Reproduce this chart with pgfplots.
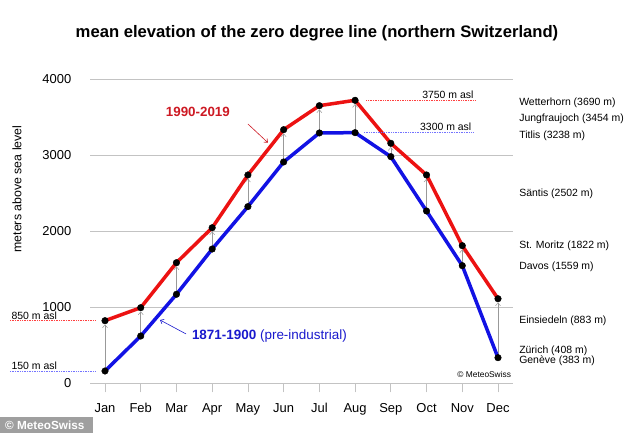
\documentclass[border=0pt]{standalone}
\usepackage{pgfplots}
\pgfplotsset{compat=1.18}
\usepackage{pgfplotstable}
\usepackage{fontspec}
\setmainfont{Liberation Sans}
\usetikzlibrary{arrows.meta}
\definecolor{myred}{RGB}{236,18,18}
\definecolor{myblue}{RGB}{18,18,228}
\definecolor{lblred}{RGB}{205,25,35}
\definecolor{lblblue}{RGB}{25,25,205}
\definecolor{axgray}{RGB}{195,195,195}

\pgfplotstableread{
m pre now
0 162 824
1 622 995
2 1171 1587
3 1767 2047
4 2325 2741
5 2912 3337
6 3294 3653
7 3298 3724
8 2982 3158
9 2267 2741
10 1548 1811
11 337 1113
}\data

\begin{document}
\begin{tikzpicture}
\path[use as bounding box] (0,0) rectangle (634bp,433bp);
\begin{axis}[
 at={(90bp,49.7bp)}, anchor=south west, scale only axis,
 width=423bp, height=304bp,
 xmin=-0.42, xmax=11.42, ymin=0, ymax=4000,
 clip=false,
 axis x line*=bottom, axis y line*=left,
 y axis line style={draw=none},
 x axis line style={draw=axgray, line width=0.8bp, -},
 xtick={0,...,11},
 xticklabels={Jan,Feb,Mar,Apr,May,Jun,Jul,Aug,Sep,Oct,Nov,Dec},
 ytick={0,1000,2000,3000,4000},
 ymajorgrids, grid style={axgray, line width=0.8bp},
 ytick style={draw=none},
 xtick style={draw=axgray, line width=0.8bp},
 tick align=outside, major tick length=9bp,
 ticklabel style={font=\fontsize{13}{15}\selectfont},
 yticklabel style={inner sep=0pt, xshift=-9.5bp, yshift=0.6bp},
 xticklabel style={yshift=-7.5bp},
 /pgf/number format/assume math mode=true,
 /pgf/number format/1000 sep={},
]
\addplot[gray!80, line width=0.5bp, -{Straight Barb[length=3bp,width=5bp]},
  quiver={u=0, v=\thisrow{now}-\thisrow{pre}, every arrow/.append style={shorten >=3.7bp}}]
  table[x=m, y=pre] {\data};
\addplot[myblue, line width=3.5bp, mark=*, mark size=3.3bp,
  mark options={solid, fill=black, draw=black, line width=0.4bp}] table[x=m, y=pre] {\data};
\addplot[myred, line width=3.5bp, mark=*, mark size=3.3bp,
  mark options={solid, fill=black, draw=black, line width=0.4bp}] table[x=m, y=now] {\data};
% reference lines
\addplot[red!75, densely dotted, line width=0.7bp] coordinates {(7.31,3724) (10.36,3724)};
\addplot[blue!55, densely dotted, line width=0.7bp] coordinates {(7.25,3298) (10.30,3298)};
\addplot[red!75, densely dotted, line width=0.7bp] coordinates {(-2.66,824) (-0.28,824)};
\addplot[blue!55, densely dotted, line width=0.7bp] coordinates {(-2.66,162) (-0.28,162)};
\begin{scope}[font=\fontsize{10.5}{12}\selectfont]
\node[anchor=south east, inner sep=1.5bp] at (axis cs:10.36,3724) {3750 m asl};
\node[anchor=south east, inner sep=1.5bp] at (axis cs:10.30,3298) {3300 m asl};
\node[anchor=south west, inner sep=0pt, yshift=0.6bp] at (axis cs:-2.62,824) {850 m asl};
\node[anchor=south west, inner sep=0pt, yshift=0.8bp] at (axis cs:-2.62,162) {150 m asl};
\node[anchor=west, inner sep=0pt] at (axis cs:11.59,3694) {Wetterhorn (3690 m)};
\node[anchor=west, inner sep=0pt] at (axis cs:11.59,3478) {Jungfraujoch (3454 m)};
\node[anchor=west, inner sep=0pt] at (axis cs:11.59,3258) {Titlis (3238 m)};
\node[anchor=west, inner sep=0pt] at (axis cs:11.59,2500) {Säntis (2502 m)};
\node[anchor=west, inner sep=0pt] at (axis cs:11.59,1807) {St. Moritz (1822 m)};
\node[anchor=west, inner sep=0pt] at (axis cs:11.59,1530) {Davos (1559 m)};
\node[anchor=west, inner sep=0pt] at (axis cs:11.59,820) {Einsiedeln (883 m)};
\node[anchor=west, inner sep=0pt] at (axis cs:11.59,426) {Zürich (408 m)};
\node[anchor=west, inner sep=0pt] at (axis cs:11.59,293) {Genève (383 m)};
\end{scope}
\node[anchor=east, inner sep=0pt, font=\fontsize{8.4}{10}\selectfont] at (axis cs:11.37,122) {© MeteoSwiss};
% annotations
\node[font=\bfseries\fontsize{13.4}{15}\selectfont, text=lblred] at (axis cs:2.60,3570) {1990-2019};
\draw[lblred, line width=0.6bp, -{Straight Barb[length=3bp,width=5bp]}] (axis cs:4.00,3412) -- (axis cs:4.56,3166);
\node[anchor=west, inner sep=0pt, font=\fontsize{13.5}{15}\selectfont, text=lblblue] at (axis cs:2.43,622) {\textbf{1871-1900} (pre-industrial)};
\draw[lblblue, line width=0.6bp, -{Straight Barb[length=3bp,width=5bp]}] (axis cs:2.27,649) -- (axis cs:1.54,833);
\end{axis}
\node[font=\bfseries\fontsize{16.7}{19}\selectfont] at (317bp,400bp) {mean elevation of the zero degree line (northern Switzerland)};
\node[rotate=90, font=\fontsize{12.4}{14}\selectfont] at (17bp,244bp) {meters above sea level};
\fill[gray!75] (0,0) rectangle (93bp,16bp);
\node[anchor=west, text=white, font=\bfseries\fontsize{11.8}{13}\selectfont, inner sep=0pt] at (5bp,8bp) {© MeteoSwiss};
\end{tikzpicture}
\end{document}
